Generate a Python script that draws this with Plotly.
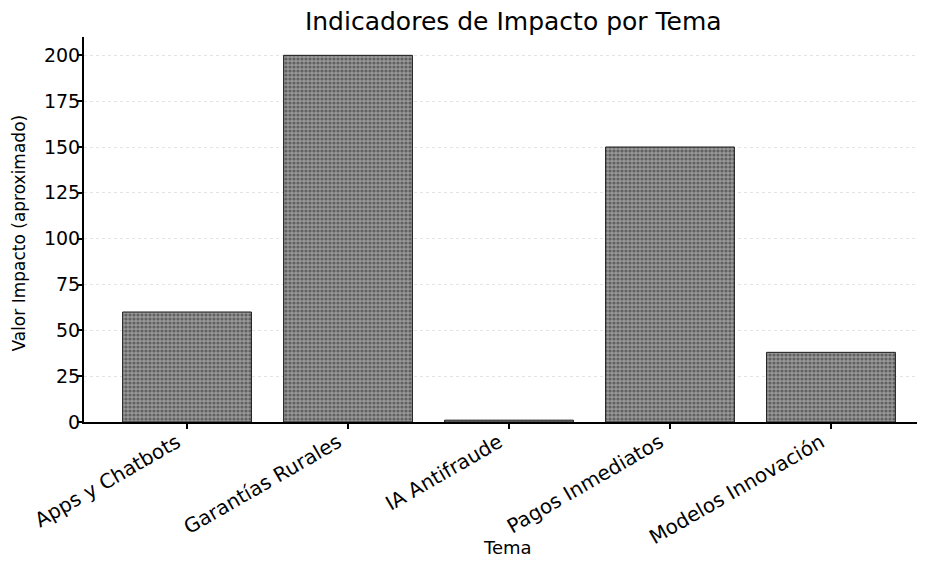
import plotly.graph_objects as go

categories = ["Apps y Chatbots", "Garantías Rurales", "IA Antifraude", "Pagos Inmediatos", "Modelos Innovación"]
values = [60, 200, 1, 150, 38]
y_ticks = [0, 25, 50, 75, 100, 125, 150, 175, 200]

FONT = "DejaVu Sans"

fig = go.Figure()
fig.add_trace(go.Bar(
    x=categories, y=values, width=0.8,
    marker=dict(
        color="#7a7a7a",
        line=dict(color="#1a1a1a", width=1),
        pattern=dict(shape=".", fgcolor="#2a2a2a", bgcolor="#989898", size=4, solidity=0.5),
    ),
    showlegend=False,
))

fig.add_annotation(
    x=0.5, y=-0.327, xref="paper", yref="paper", text="Tema", showarrow=False,
    xanchor="center", yanchor="middle", xshift=3,
    font=dict(family=FONT, size=18, color="black"),
)
fig.add_annotation(
    x=-0.077, y=0.49, xref="paper", yref="paper", text="Valor Impacto (aproximado)",
    showarrow=False, textangle=-90, xanchor="center", yanchor="middle",
    font=dict(family=FONT, size=17, color="black"),
)

# page body has an 8px margin: figure is drawn from (8, 8)
fig.update_layout(
    width=917, height=563,
    margin=dict(l=76, r=0, t=29, b=149),
    paper_bgcolor="white", plot_bgcolor="white",
    title=dict(text="Indicadores de Impacto por Tema", x=0.551, xanchor="center",
               xref="container", y=0.977, yanchor="middle",
               font=dict(family=FONT, size=25, color="black")),
    font=dict(family=FONT, color="black"),
    xaxis=dict(range=[-0.64, 4.584], tickangle=-30, automargin=False,
               tickfont=dict(family=FONT, size=20),
               ticklabelstandoff=-6, ticklabelshift=-10,
               ticks="outside", ticklen=5, tickwidth=1.5, tickcolor="black", showline=True,
               linecolor="black", linewidth=2, showgrid=False, zeroline=False),
    yaxis=dict(range=[0, 210], tickmode="array", tickvals=y_ticks, ticktext=[str(v) for v in y_ticks],
               automargin=False, ticklabelstandoff=-7,
               ticks="outside", ticklen=5, tickwidth=1.5, tickcolor="black", showline=True,
               linecolor="black", linewidth=2, zeroline=False,
               showgrid=True, gridcolor="#e4e4e4", griddash="dot", gridwidth=1,
               tickfont=dict(family=FONT, size=19)),
)

fig.write_html("out.html")
